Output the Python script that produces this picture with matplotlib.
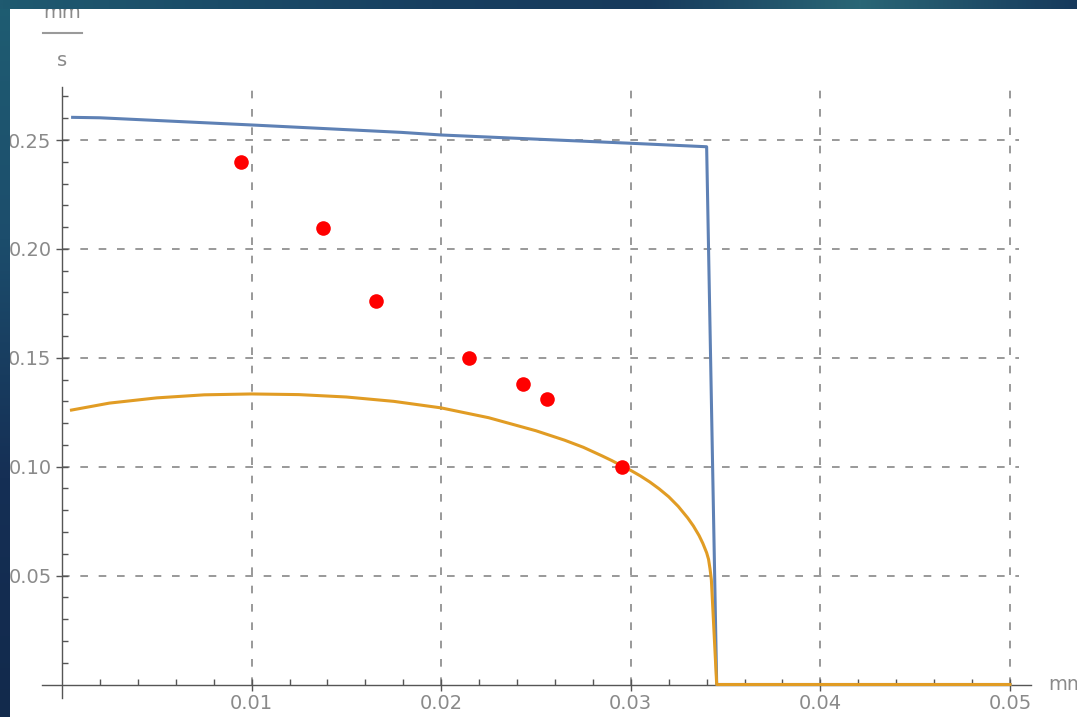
import numpy as np
import matplotlib.pyplot as plt
from matplotlib.lines import Line2D
from matplotlib.colors import LinearSegmentedColormap

# measured points (x in mm, v in mm/s)
meas_x = [0.00944, 0.01375, 0.01655, 0.02148, 0.0243, 0.02556, 0.02952]
meas_v = [0.2399, 0.2095, 0.1762, 0.1498, 0.1378, 0.1309, 0.0997]

# upper model curve
upper_x = [0.00056, 0.0020, 0.0100, 0.0179, 0.0200, 0.0300, 0.0340, 0.03453, 0.0500]
upper_v = [0.2604, 0.2602, 0.2569, 0.2535, 0.2523, 0.2485, 0.2469, 0.0, 0.0]

# lower model curve
lower_x = [0.0005, 0.0025, 0.0050, 0.0075, 0.0100, 0.0125, 0.0150, 0.0175,
           0.0200, 0.0225, 0.0250, 0.0265, 0.0275, 0.0285, 0.0290, 0.0295,
           0.0300, 0.0305, 0.0310, 0.0315, 0.0320, 0.0325, 0.0330, 0.0333,
           0.0336, 0.0338, 0.0340, 0.0341, 0.03418, 0.03425, 0.03453, 0.0500]
lower_v = [0.1260, 0.1292, 0.1316, 0.1330, 0.1334, 0.1331, 0.1320, 0.1300,
           0.1270, 0.1225, 0.1165, 0.1122, 0.1089, 0.1049, 0.1028, 0.1005,
           0.0983, 0.0958, 0.0930, 0.0898, 0.0862, 0.0818, 0.0765, 0.0728,
           0.0684, 0.0648, 0.0605, 0.0575, 0.0530, 0.0480, 0.0, 0.0]

x_ticks = [0.01, 0.02, 0.03, 0.04, 0.05]
x_labels = ['0.01', '0.02', '0.03', '0.04', '0.05']
y_ticks = [0.05, 0.10, 0.15, 0.20, 0.25]
y_labels = ['0.05', '0.10', '0.15', '0.20', '0.25']

W, H = 1077, 717
BLUE = '#5E81B5'
ORANGE = '#E19C24'
GRID = '#7d7d7d'
LABEL = '#8a8a8a'
AXIS = '#555555'

fig = plt.figure(figsize=(W / 100, H / 100), dpi=100)
fig.patch.set_facecolor('white')

# pixel layout of the plot area
x0_px, sx = 62.0, 18960.0
y0_px, sy = 684.5, 2178.0
xlim = (-0.00105, 0.0511)
ylim = (-0.006, 0.2745)
left_px = x0_px + xlim[0] * sx
right_px = x0_px + xlim[1] * sx
top_px = y0_px - ylim[1] * sy
bot_px = y0_px - ylim[0] * sy
ax = fig.add_axes([left_px / W, 1 - bot_px / H,
                   (right_px - left_px) / W, (bot_px - top_px) / H])
ax.patch.set_alpha(0)

# dashed grid
grid_x_end = 0.0505
grid_y_end = 0.2735
dash = dict(color=GRID, lw=1.1, linestyle=(0, (5, 7)), zorder=1)
ax.hlines(y_ticks, 0, grid_x_end, **dash)
ax.vlines(x_ticks, 0, grid_y_end, **dash)

ax.plot(upper_x, upper_v, color=BLUE, lw=2.2, zorder=3, solid_joinstyle='round')
ax.plot(lower_x, lower_v, color=ORANGE, lw=2.2, zorder=4, solid_joinstyle='round')
ax.plot(meas_x, meas_v, 'o', color='#ff0000', ms=10.5, mec='none', zorder=5)

# axes through the origin
for s in ['top', 'right']:
    ax.spines[s].set_visible(False)
ax.spines['left'].set_position(('data', 0))
ax.spines['bottom'].set_position(('data', 0))
for s in ['left', 'bottom']:
    ax.spines[s].set_color(AXIS)
    ax.spines[s].set_linewidth(1.0)
    ax.spines[s].set_zorder(2)

ax.set_xticks(x_ticks)
ax.set_xticklabels(x_labels)
ax.set_yticks(y_ticks)
ax.set_yticklabels(y_labels)
ax.set_xticks([t for t in np.arange(1, 26) * 0.002 if round(t, 4) not in x_ticks], minor=True)
ax.set_yticks([t for t in np.arange(1, 28) * 0.01 if round(t, 3) not in y_ticks], minor=True)
ax.set_xlim(*xlim)
ax.set_ylim(*ylim)
ax.tick_params(which='major', direction='inout', length=9, width=1.0,
               color=AXIS, labelcolor=LABEL, labelsize=14)
ax.tick_params(which='minor', direction='in', length=4, width=1.0, color=AXIS)
ax.tick_params(axis='x', which='major', pad=2)
ax.tick_params(axis='y', which='major', pad=3)

# unit labels
fig.text(1048 / W, 1 - 684 / H, 'mm', color=LABEL, fontsize=14, va='center', ha='left')
fig.text(62 / W, 1 - 12 / H, 'mm', color=LABEL, fontsize=14, va='center', ha='center')
fig.add_artist(Line2D([43 / W, 82 / W], [1 - 33 / H, 1 - 33 / H],
                      transform=fig.transFigure, color='#9a9a9a', lw=1.5))
fig.text(62 / W, 1 - 60 / H, 's', color=LABEL, fontsize=14, va='center', ha='center')

# slide frame on the left and top
side = fig.add_axes([0, 0, 10 / W, 1], zorder=10)
side_cmap = LinearSegmentedColormap.from_list('side', ['#1f5d72', '#1c4d6c', '#152f55', '#122a4c'])
side.imshow(np.linspace(0, 1, 256).reshape(-1, 1), aspect='auto', cmap=side_cmap)
side.axis('off')
top = fig.add_axes([0, 1 - 9 / H, 1, 9 / H], zorder=10)
top_cmap = LinearSegmentedColormap.from_list('top', ['#1f5a70', '#1b4c68', '#183f60', '#173a5c',
                                                     '#2a6676', '#173a5c'])
top.imshow(np.linspace(0, 1, 512).reshape(1, -1), aspect='auto', cmap=top_cmap)
top.axis('off')

fig.savefig('out.png', dpi=100)
